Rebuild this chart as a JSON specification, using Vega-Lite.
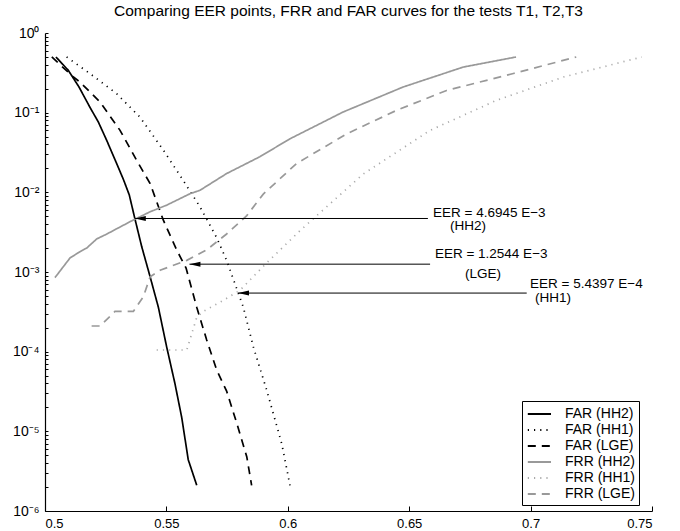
{
  "$schema": "https://vega.github.io/schema/vega-lite/v6.json",
  "width": 607,
  "height": 478,
  "autosize": "none",
  "padding": {"left": 45, "top": 33, "right": 28, "bottom": 20},
  "background": "white",
  "title": {"text": "Comparing EER points, FRR and FAR curves for the tests T1, T2,T3", "fontSize": 15.5, "fontWeight": "normal", "font": "Liberation Sans", "color": "black", "anchor": "middle", "offset": 7},
  "config": {
    "view": {"stroke": null},
    "font": "Liberation Sans",
    "axis": {"domainColor": "black", "domainWidth": 1.2, "tickColor": "black", "labelColor": "black", "labelFont": "Liberation Sans", "labelFontSize": 13, "grid": false, "title": null}
  },
  "datasets": {
    "curves": [
      {"s": "FAR (HH2)", "x": 0.5045, "y": 0.5},
      {"s": "FAR (HH2)", "x": 0.5096, "y": 0.34},
      {"s": "FAR (HH2)", "x": 0.514, "y": 0.21},
      {"s": "FAR (HH2)", "x": 0.5185, "y": 0.117},
      {"s": "FAR (HH2)", "x": 0.522, "y": 0.076},
      {"s": "FAR (HH2)", "x": 0.5254, "y": 0.045},
      {"s": "FAR (HH2)", "x": 0.529, "y": 0.025},
      {"s": "FAR (HH2)", "x": 0.5323, "y": 0.0145},
      {"s": "FAR (HH2)", "x": 0.5347, "y": 0.0093},
      {"s": "FAR (HH2)", "x": 0.537, "y": 0.0047},
      {"s": "FAR (HH2)", "x": 0.5398, "y": 0.0021},
      {"s": "FAR (HH2)", "x": 0.5433, "y": 0.00087},
      {"s": "FAR (HH2)", "x": 0.5467, "y": 0.00036},
      {"s": "FAR (HH2)", "x": 0.5501, "y": 0.000115},
      {"s": "FAR (HH2)", "x": 0.5535, "y": 0.00004},
      {"s": "FAR (HH2)", "x": 0.5563, "y": 0.000015},
      {"s": "FAR (HH2)", "x": 0.559, "y": 0.0000044},
      {"s": "FAR (HH2)", "x": 0.5625, "y": 0.0000021},
      {"s": "FAR (HH1)", "x": 0.5089, "y": 0.5},
      {"s": "FAR (HH1)", "x": 0.5185, "y": 0.31},
      {"s": "FAR (HH1)", "x": 0.5295, "y": 0.173},
      {"s": "FAR (HH1)", "x": 0.5391, "y": 0.088},
      {"s": "FAR (HH1)", "x": 0.5487, "y": 0.034},
      {"s": "FAR (HH1)", "x": 0.557, "y": 0.014},
      {"s": "FAR (HH1)", "x": 0.5638, "y": 0.0066},
      {"s": "FAR (HH1)", "x": 0.5707, "y": 0.0027},
      {"s": "FAR (HH1)", "x": 0.5748, "y": 0.0014},
      {"s": "FAR (HH1)", "x": 0.5817, "y": 0.00036},
      {"s": "FAR (HH1)", "x": 0.5858, "y": 0.000115},
      {"s": "FAR (HH1)", "x": 0.5913, "y": 0.000033},
      {"s": "FAR (HH1)", "x": 0.5975, "y": 0.000007},
      {"s": "FAR (HH1)", "x": 0.6009, "y": 0.0000021},
      {"s": "FAR (LGE)", "x": 0.5028, "y": 0.5},
      {"s": "FAR (LGE)", "x": 0.5117, "y": 0.28},
      {"s": "FAR (LGE)", "x": 0.5144, "y": 0.242},
      {"s": "FAR (LGE)", "x": 0.5227, "y": 0.136},
      {"s": "FAR (LGE)", "x": 0.5309, "y": 0.06},
      {"s": "FAR (LGE)", "x": 0.5378, "y": 0.025},
      {"s": "FAR (LGE)", "x": 0.5433, "y": 0.0129},
      {"s": "FAR (LGE)", "x": 0.5487, "y": 0.0045},
      {"s": "FAR (LGE)", "x": 0.5542, "y": 0.0019},
      {"s": "FAR (LGE)", "x": 0.5581, "y": 0.00112},
      {"s": "FAR (LGE)", "x": 0.5625, "y": 0.00036},
      {"s": "FAR (LGE)", "x": 0.5666, "y": 0.00014},
      {"s": "FAR (LGE)", "x": 0.5707, "y": 0.000059},
      {"s": "FAR (LGE)", "x": 0.5748, "y": 0.000032},
      {"s": "FAR (LGE)", "x": 0.579, "y": 0.0000126},
      {"s": "FAR (LGE)", "x": 0.5831, "y": 0.0000048},
      {"s": "FAR (LGE)", "x": 0.5851, "y": 0.0000021},
      {"s": "FRR (HH2)", "x": 0.5041, "y": 0.00085},
      {"s": "FRR (HH2)", "x": 0.5103, "y": 0.0015},
      {"s": "FRR (HH2)", "x": 0.5144, "y": 0.0018},
      {"s": "FRR (HH2)", "x": 0.5172, "y": 0.002},
      {"s": "FRR (HH2)", "x": 0.5213, "y": 0.0026},
      {"s": "FRR (HH2)", "x": 0.5255, "y": 0.003},
      {"s": "FRR (HH2)", "x": 0.5296, "y": 0.0035},
      {"s": "FRR (HH2)", "x": 0.5364, "y": 0.0045},
      {"s": "FRR (HH2)", "x": 0.5433, "y": 0.0057},
      {"s": "FRR (HH2)", "x": 0.5501, "y": 0.0069},
      {"s": "FRR (HH2)", "x": 0.5597, "y": 0.0096},
      {"s": "FRR (HH2)", "x": 0.5638, "y": 0.0106},
      {"s": "FRR (HH2)", "x": 0.5748, "y": 0.0172},
      {"s": "FRR (HH2)", "x": 0.5885, "y": 0.028},
      {"s": "FRR (HH2)", "x": 0.6009, "y": 0.047},
      {"s": "FRR (HH2)", "x": 0.6228, "y": 0.102},
      {"s": "FRR (HH2)", "x": 0.6475, "y": 0.21},
      {"s": "FRR (HH2)", "x": 0.6722, "y": 0.373},
      {"s": "FRR (HH2)", "x": 0.694, "y": 0.5},
      {"s": "FRR (HH1)", "x": 0.546, "y": 0.000105},
      {"s": "FRR (HH1)", "x": 0.5584, "y": 0.000105},
      {"s": "FRR (HH1)", "x": 0.5625, "y": 0.00027},
      {"s": "FRR (HH1)", "x": 0.5652, "y": 0.00032},
      {"s": "FRR (HH1)", "x": 0.5734, "y": 0.00044},
      {"s": "FRR (HH1)", "x": 0.5803, "y": 0.00059},
      {"s": "FRR (HH1)", "x": 0.5913, "y": 0.0013},
      {"s": "FRR (HH1)", "x": 0.605, "y": 0.0033},
      {"s": "FRR (HH1)", "x": 0.6311, "y": 0.017},
      {"s": "FRR (HH1)", "x": 0.6586, "y": 0.06},
      {"s": "FRR (HH1)", "x": 0.686, "y": 0.143},
      {"s": "FRR (HH1)", "x": 0.7135, "y": 0.28},
      {"s": "FRR (HH1)", "x": 0.7458, "y": 0.5},
      {"s": "FRR (LGE)", "x": 0.5192, "y": 0.00021},
      {"s": "FRR (LGE)", "x": 0.5227, "y": 0.00021},
      {"s": "FRR (LGE)", "x": 0.5288, "y": 0.00032},
      {"s": "FRR (LGE)", "x": 0.5364, "y": 0.00032},
      {"s": "FRR (LGE)", "x": 0.5405, "y": 0.00049},
      {"s": "FRR (LGE)", "x": 0.5433, "y": 0.00087},
      {"s": "FRR (LGE)", "x": 0.5474, "y": 0.00105},
      {"s": "FRR (LGE)", "x": 0.5584, "y": 0.0014},
      {"s": "FRR (LGE)", "x": 0.5666, "y": 0.0019},
      {"s": "FRR (LGE)", "x": 0.5748, "y": 0.003},
      {"s": "FRR (LGE)", "x": 0.5831, "y": 0.0051},
      {"s": "FRR (LGE)", "x": 0.5899, "y": 0.0095},
      {"s": "FRR (LGE)", "x": 0.6036, "y": 0.023},
      {"s": "FRR (LGE)", "x": 0.6242, "y": 0.054},
      {"s": "FRR (LGE)", "x": 0.6448, "y": 0.107},
      {"s": "FRR (LGE)", "x": 0.6654, "y": 0.19},
      {"s": "FRR (LGE)", "x": 0.6929, "y": 0.31},
      {"s": "FRR (LGE)", "x": 0.7188, "y": 0.5}
    ],
    "eer": [
      {"test": "HH2", "x_tip": 0.537, "x_end": 0.6577, "eer": 0.0046945, "label": "EER = 4.6945 E−3", "lx": 0.6598, "ly": 0.0049, "sub": "(HH2)", "sx": 0.6668, "sy": 0.00335},
      {"test": "LGE", "x_tip": 0.5595, "x_end": 0.6586, "eer": 0.0012544, "label": "EER = 1.2544 E−3", "lx": 0.6606, "ly": 0.00149, "sub": "(LGE)", "sx": 0.673, "sy": 0.000834},
      {"test": "HH1", "x_tip": 0.5795, "x_end": 0.6984, "eer": 0.00054397, "label": "EER = 5.4397 E−4", "lx": 0.6998, "ly": 0.000628, "sub": "(HH1)", "sx": 0.7018, "sy": 0.000415}
    ]
  },
  "layer": [
    {
      "data": {"name": "curves"},
      "mark": {"type": "line", "clip": true, "interpolate": "linear", "strokeWidth": 1.7},
      "encoding": {
        "x": {"field": "x", "type": "quantitative", "scale": {"domain": [0.5, 0.75], "nice": false, "zero": false},
          "axis": {"values": [0.5, 0.55, 0.6, 0.65, 0.7, 0.75], "format": ".2~f", "tickSize": -5, "labelPadding": 11, "title": null}},
        "y": {"field": "y", "type": "quantitative", "scale": {"type": "log", "domain": [0.000001, 1], "nice": false},
          "axis": {
            "values": [0.000001, 0.000002, 0.000003, 0.000004, 0.000005, 0.000006, 0.000007, 0.000008, 0.000009,
              0.00001, 0.00002, 0.00003, 0.00004, 0.00005, 0.00006, 0.00007, 0.00008, 0.00009,
              0.0001, 0.0002, 0.0003, 0.0004, 0.0005, 0.0006, 0.0007, 0.0008, 0.0009,
              0.001, 0.002, 0.003, 0.004, 0.005, 0.006, 0.007, 0.008, 0.009,
              0.01, 0.02, 0.03, 0.04, 0.05, 0.06, 0.07, 0.08, 0.09,
              0.1, 0.2, 0.3, 0.4, 0.5, 0.6, 0.7, 0.8, 0.9, 1],
            "labelExpr": "abs(log(datum.value)/LN10 - round(log(datum.value)/LN10)) < 0.000001 ? ('10' + (datum.value >= 0.5 ? '⁰' : '⁻' + ['¹','²','³','⁴','⁵','⁶'][round(-log(datum.value)/LN10)-1])) : ''",
            "tickSize": -3,
            "labelPadding": 9,
            "labelFontSize": 14,
            "title": null
          }},
        "color": {"field": "s", "type": "nominal",
          "scale": {"domain": ["FAR (HH2)", "FAR (HH1)", "FAR (LGE)", "FRR (HH2)", "FRR (HH1)", "FRR (LGE)"],
                    "range": ["#000000", "#000000", "#000000", "#999999", "#aaaaaa", "#999999"]},
          "legend": {"title": null, "orient": "none", "legendX": 477, "legendY": 368, "strokeColor": "black", "fillColor": "white", "padding": 4, "labelFont": "Liberation Sans", "labelFontSize": 14, "labelColor": "black", "labelOffset": 21, "rowPadding": 0, "symbolType": "M-0.9,0L2,0", "symbolSize": 256, "symbolStrokeWidth": 1.8, "cornerRadius": 0}},
        "strokeDash": {"field": "s", "type": "nominal",
          "scale": {"domain": ["FAR (HH2)", "FAR (HH1)", "FAR (LGE)", "FRR (HH2)", "FRR (HH1)", "FRR (LGE)"],
                    "range": [[1, 0], [1.2, 5], [8, 6], [1, 0], [1.2, 5], [8, 6]]},
          "legend": {"title": null, "orient": "none", "legendX": 477, "legendY": 368, "strokeColor": "black", "fillColor": "white", "padding": 4, "labelFont": "Liberation Sans", "labelFontSize": 14, "labelColor": "black", "labelOffset": 21, "rowPadding": 0, "symbolType": "M-0.9,0L2,0", "symbolSize": 256, "symbolStrokeWidth": 1.8, "cornerRadius": 0}}
      }
    },
    {
      "data": {"name": "eer"},
      "mark": {"type": "rule", "color": "black", "strokeWidth": 1},
      "encoding": {
        "x": {"field": "x_tip", "type": "quantitative", "scale": {"domain": [0.5, 0.75], "nice": false, "zero": false}},
        "x2": {"field": "x_end"},
        "y": {"field": "eer", "type": "quantitative", "scale": {"type": "log", "domain": [0.000001, 1], "nice": false}}
      }
    },
    {
      "data": {"name": "eer"},
      "mark": {"type": "point", "shape": "M0,0L2,-0.45L2,0.45Z", "filled": true, "color": "black", "opacity": 1, "size": 121},
      "encoding": {
        "x": {"field": "x_tip", "type": "quantitative", "scale": {"domain": [0.5, 0.75], "nice": false, "zero": false}},
        "y": {"field": "eer", "type": "quantitative", "scale": {"type": "log", "domain": [0.000001, 1], "nice": false}}
      }
    },
    {
      "data": {"name": "eer"},
      "mark": {"type": "text", "align": "left", "baseline": "alphabetic", "fontSize": 13.5, "color": "black", "font": "Liberation Sans"},
      "encoding": {
        "x": {"field": "lx", "type": "quantitative", "scale": {"domain": [0.5, 0.75], "nice": false, "zero": false}},
        "y": {"field": "ly", "type": "quantitative", "scale": {"type": "log", "domain": [0.000001, 1], "nice": false}},
        "text": {"field": "label"}
      }
    },
    {
      "data": {"name": "eer"},
      "mark": {"type": "text", "align": "left", "baseline": "alphabetic", "fontSize": 13.5, "color": "black", "font": "Liberation Sans"},
      "encoding": {
        "x": {"field": "sx", "type": "quantitative", "scale": {"domain": [0.5, 0.75], "nice": false, "zero": false}},
        "y": {"field": "sy", "type": "quantitative", "scale": {"type": "log", "domain": [0.000001, 1], "nice": false}},
        "text": {"field": "sub"}
      }
    }
  ]
}
